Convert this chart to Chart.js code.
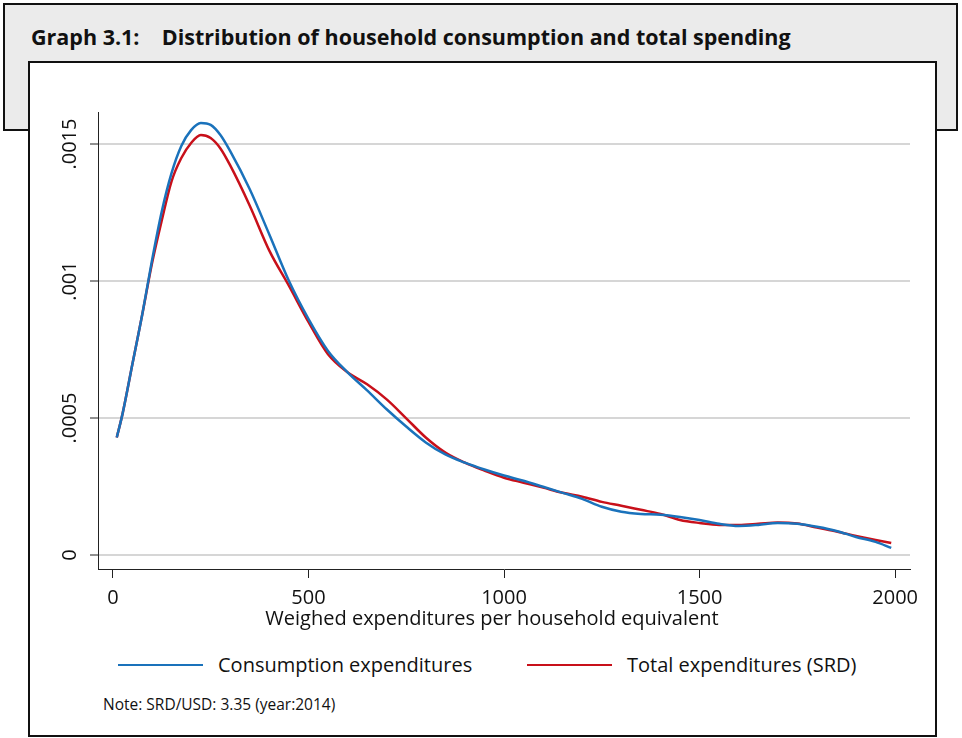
<!DOCTYPE html>
<html>
<head>
<meta charset="utf-8">
<script src="https://cdn.jsdelivr.net/npm/chart.js@4.4.1/dist/chart.umd.min.js"></script>
<style>
  body { margin: 0; background: #fff; font-family: 'Open Sans', sans-serif; }
  .page { position: relative; width: 962px; height: 738px; overflow: hidden; }
  .header {
    position: absolute; left: 3px; top: 3px; width: 951px; height: 124px;
    background: #ebebeb; border: 2px solid #111;
  }
  .header h1 {
    position: absolute; left: 26px; top: 17px; margin: 0;
    font-size: 21.5px; font-weight: 700; color: #111; white-space: pre;
  }
  .panel {
    position: absolute; left: 28px; top: 61px; width: 905px; height: 672px;
    background: #fff; border: 2.5px solid #111;
  }
  #chartBox { position: absolute; left: 31px; top: 64px; width: 904px; height: 580px; }
  .legend { position: absolute; top: 651px; font-size: 20px; color: #111; }
  .legend .swatch { position: absolute; top: 13px; width: 85px; height: 2px; }
  .legend span { position: absolute; left: 100px; top: 0; white-space: nowrap; }
  .note { position: absolute; left: 103px; top: 693px; font-size: 15.5px; color: #111; }
</style>
</head>
<body>
<div class="page">
  <div class="header"><h1>Graph 3.1:    Distribution of household consumption and total spending</h1></div>
  <div class="panel"></div>
  <div id="chartBox"><canvas id="densityChart"></canvas></div>
  <div class="legend" style="left:118px"><div class="swatch" style="background:#1a72bb"></div><span>Consumption expenditures</span></div>
  <div class="legend" style="left:527px"><div class="swatch" style="background:#c8101a"></div><span>Total expenditures (SRD)</span></div>
  <div class="note">Note: SRD/USD: 3.35 (year:2014)</div>
</div>
<script>
// expenditure points (SRD) where the densities are read
const expenditure = [10, 25, 50, 75, 100, 125, 150, 175, 200, 225, 250, 275, 300, 350, 400, 450,
  500, 550, 600, 650, 700, 750, 800, 850, 900, 950, 1000, 1050, 1100, 1150, 1200, 1250, 1300,
  1350, 1400, 1450, 1500, 1550, 1600, 1650, 1700, 1750, 1800, 1850, 1900, 1950, 1990];

// kernel density, consumption expenditures
const consumptionDensity = [0.000429, 0.000517, 0.000697, 0.000877, 0.001075, 0.001254, 0.001394,
  0.001493, 0.001551, 0.001577, 0.001570, 0.001533, 0.001474, 0.001335, 0.001170, 0.001001,
  0.000862, 0.000745, 0.000667, 0.000601, 0.000532, 0.000469, 0.000411, 0.000367, 0.000337,
  0.000312, 0.000290, 0.000271, 0.000249, 0.000227, 0.000205, 0.000176, 0.000158, 0.000150,
  0.000147, 0.000139, 0.000128, 0.000114, 0.000106, 0.000110, 0.000117, 0.000114, 0.000103,
  0.000088, 0.000066, 0.000048, 0.000026];

// kernel density, total expenditures
const totalDensity = [0.000429, 0.000517, 0.000697, 0.000877, 0.001064, 0.001221, 0.001364,
  0.001449, 0.001504, 0.001533, 0.001522, 0.001484, 0.001422, 0.001275, 0.001111, 0.000983,
  0.000851, 0.000733, 0.000667, 0.000623, 0.000568, 0.000499, 0.000429, 0.000374, 0.000337,
  0.000308, 0.000282, 0.000264, 0.000246, 0.000227, 0.000213, 0.000194, 0.000180, 0.000165,
  0.000150, 0.000128, 0.000117, 0.000110, 0.000110, 0.000114, 0.000119, 0.000115, 0.000100,
  0.000086, 0.000070, 0.000055, 0.000044];

const xTicks = [0, 500, 1000, 1500, 2000];
const yTicks = [0, 0.0005, 0.001, 0.0015];
const yTickLabels = ['0', '.0005', '.001', '.0015'];
const xTitle = 'Weighed expenditures per household equivalent';

const toPoints = values => values.map((v, i) => ({ x: expenditure[i], y: v }));
const font = { family: 'Open Sans', size: 20 };

// y labels are rotated and the x title is centred on the graph, so both are drawn here
const axisText = {
  id: 'axisText',
  afterDraw(chart) {
    const ctx = chart.ctx;
    const yScale = chart.scales.y;
    ctx.save();
    ctx.fillStyle = '#111';
    ctx.font = '20px "Open Sans"';
    ctx.textAlign = 'center';
    ctx.textBaseline = 'middle';
    yTicks.forEach((t, i) => {
      ctx.save();
      ctx.translate(39, yScale.getPixelForValue(t));
      ctx.rotate(-Math.PI / 2);
      ctx.fillText(yTickLabels[i], 0, 0);
      ctx.restore();
    });
    ctx.fillText(xTitle, 461, 555);
    ctx.restore();
  }
};

const ctx = document.getElementById('densityChart').getContext('2d');
new Chart(ctx, {
  type: 'line',
  data: {
    datasets: [
      {
        label: 'Consumption expenditures',
        data: toPoints(consumptionDensity),
        borderColor: '#1a72bb',
        borderWidth: 2.5,
        pointRadius: 0,
        cubicInterpolationMode: 'monotone'
      },
      {
        label: 'Total expenditures (SRD)',
        data: toPoints(totalDensity),
        borderColor: '#c8101a',
        borderWidth: 2.5,
        pointRadius: 0,
        cubicInterpolationMode: 'monotone'
      }
    ]
  },
  options: {
    responsive: true,
    maintainAspectRatio: false,
    animation: false,
    layout: { padding: { top: 48, right: 25, left: 0, bottom: 0 } },
    plugins: { legend: { display: false }, tooltip: { enabled: false } },
    scales: {
      x: {
        type: 'linear',
        min: -38,
        max: 2038,
        afterBuildTicks: scale => { scale.ticks = xTicks.map(v => ({ value: v })); },
        afterFit: scale => { scale.height = 75; },
        grid: { drawOnChartArea: false, tickLength: 9, tickColor: '#222', tickWidth: 1 },
        border: { color: '#222', width: 1 },
        ticks: { font: font, color: '#111', padding: 8, maxRotation: 0, callback: v => String(v) }
      },
      y: {
        min: -0.000051,
        max: 0.001617,
        afterBuildTicks: scale => { scale.ticks = yTicks.map(v => ({ value: v })); },
        afterFit: scale => { scale.width = 67; },
        grid: { color: '#d6d6d6', lineWidth: 2, tickLength: 8, tickColor: '#222', tickWidth: 1 },
        border: { color: '#222', width: 1 },
        ticks: { display: false }
      }
    }
  },
  plugins: [axisText]
});
</script>
</body>
</html>
